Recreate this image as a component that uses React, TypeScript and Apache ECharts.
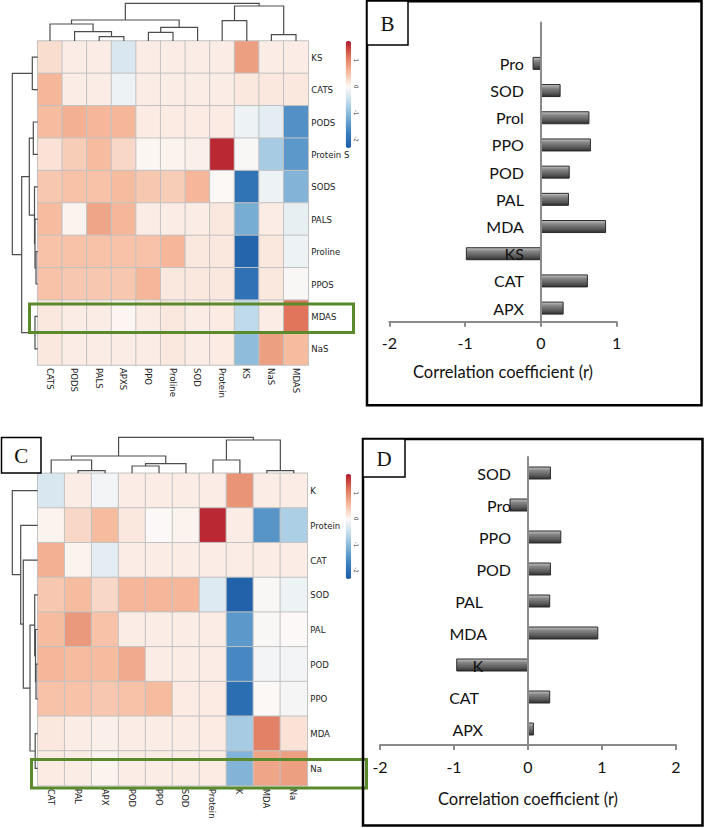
import React, { useEffect, useRef } from 'react';
import * as echarts from 'echarts';

// ---------- Heatmap A ----------
const colsA = ['CATS', 'PODS', 'PALS', 'APXS', 'PPO', 'Proline', 'SOD', 'Protein', 'KS', 'NaS', 'MDAS'];
const rowsA = ['KS', 'CATS', 'PODS', 'Protein S', 'SODS', 'PALS', 'Proline', 'PPOS', 'MDAS', 'NaS'];
const valuesA = [
  [0.25, 0.1, 0.1, -0.35, 0.1, 0.1, 0.1, 0.1, 0.8, 0.1, 0.1],
  [0.6, 0.1, 0.1, -0.15, 0.1, 0.1, 0.1, 0.1, 0.15, 0.15, 0.15],
  [0.55, 0.65, 0.6, 0.6, 0.12, 0.12, 0.12, 0.12, -0.15, -0.25, -1.55],
  [0.2, 0.4, 0.55, 0.3, 0.02, 0.05, 0.08, 1.65, -0.05, -0.8, -1.45],
  [0.45, 0.5, 0.5, 0.55, 0.45, 0.4, 0.6, 0.0, -1.95, -0.15, -1.1],
  [0.55, 0.05, 0.75, 0.6, 0.1, 0.1, 0.1, 0.15, -1.2, 0.1, -0.2],
  [0.5, 0.5, 0.5, 0.5, 0.5, 0.6, 0.15, 0.15, -2.2, 0.15, -0.15],
  [0.5, 0.45, 0.45, 0.45, 0.6, 0.15, 0.15, 0.15, -2.0, 0.15, -0.05],
  [0.15, 0.1, 0.1, 0.03, 0.1, 0.15, 0.1, 0.12, -0.6, 0.1, 1.15],
  [0.15, 0.1, 0.1, 0.1, 0.1, 0.15, 0.1, 0.12, -1.0, 0.8, 0.55],
];
// merges: [childA, childB, height]; leaves are 0..n-1, merge k gets id n+k
const colTreeA = [
  [2, 3, 4.3], [1, 11, 9.3], [0, 12, 17], [4, 5, 8.7], [14, 6, 13.7],
  [13, 15, 21], [7, 8, 20.3], [9, 10, 6.3], [17, 18, 35], [16, 19, 37.7],
];
const rowTreeA = [
  [0, 1, 5.4], [2, 3, 4.4], [6, 7, 1.7], [5, 12, 2.7], [4, 13, 3.2],
  [11, 14, 8.4], [8, 9, 2.7], [15, 16, 16], [10, 17, 25.4],
];

// ---------- Heatmap C ----------
const colsC = ['CAT', 'PAL', 'APX', 'POD', 'PPO', 'SOD', 'Protein', 'K', 'MDA', 'Na'];
const rowsC = ['K', 'Protein', 'CAT', 'SOD', 'PAL', 'POD', 'PPO', 'MDA', 'Na'];
const valuesC = [
  [-0.35, 0.1, -0.1, 0.1, 0.1, 0.1, 0.1, 0.9, 0.1, 0.1],
  [0.05, 0.3, 0.55, 0.15, -0.02, 0.05, 1.65, 0.1, -1.5, -0.75],
  [0.65, 0.05, -0.25, 0.1, 0.1, 0.1, 0.1, 0.1, 0.1, 0.1],
  [0.45, 0.55, 0.3, 0.6, 0.6, 0.6, -0.3, -2.25, -0.05, -0.15],
  [0.55, 0.85, 0.5, 0.1, 0.1, 0.1, 0.1, -1.45, -0.05, -0.02],
  [0.6, 0.55, 0.55, 0.7, 0.1, 0.1, 0.1, -1.65, -0.1, -0.1],
  [0.5, 0.5, 0.45, 0.5, 0.55, 0.12, 0.12, -2.05, 0.0, -0.08],
  [0.15, 0.1, 0.08, 0.1, 0.1, 0.1, 0.12, -0.8, 1.05, 0.2],
  [0.12, 0.1, 0.05, 0.1, 0.1, 0.1, 0.12, -1.1, 0.75, 0.8],
];
const colTreeC = [
  [1, 2, 2.6], [0, 10, 13.3], [3, 4, 7.3], [12, 5, 9.6], [11, 13, 17.3],
  [6, 7, 13.3], [8, 9, 2.6], [15, 16, 33.3], [14, 17, 36],
];
const rowTreeC = [
  [5, 6, 1.7], [4, 9, 2.2], [3, 10, 3.0], [7, 8, 2.5], [11, 12, 7.7],
  [2, 13, 14.4], [1, 14, 17], [0, 15, 25.4],
];

const colorbarTicks = [1, 0, -1, -2];
const V_MIN = -2.35;
const V_MAX = 1.75;

// ---------- Bar charts ----------
const catsB = ['APX', 'CAT', 'KS', 'MDA', 'PAL', 'POD', 'PPO', 'Prol', 'SOD', 'Pro'];
const valsB = [0.3, 0.62, -0.99, 0.86, 0.37, 0.38, 0.66, 0.64, 0.26, -0.11];
const catsD = ['APX', 'CAT', 'K', 'MDA', 'PAL', 'POD', 'PPO', 'Pro', 'SOD'];
const valsD = [0.08, 0.3, -0.97, 0.95, 0.3, 0.31, 0.45, -0.25, 0.31];
const xTicksB = [-2, 1];
const xTicksD = [-2, 2];

const heatColors = ['#1d5ca6', '#3b7fbe', '#79aed4', '#c0dbeb', '#fcf9f7', '#f6b99b', '#df7359', '#b2182b'];
const narrow = "'Liberation Sans Narrow', 'DejaVu Sans Condensed', Arial, sans-serif";
const barFont = "Lato, 'Open Sans', sans-serif";

function heatData(values: number[][]) {
  const out: number[][] = [];
  values.forEach((row, r) => row.forEach((v, c) => out.push([c, r, v])));
  return out;
}

function dendro(tree: number[][], n: number, axisIdx: number, top: boolean) {
  const pos: number[] = [];
  const ht: number[] = [];
  for (let i = 0; i < n; i++) { pos[i] = i; ht[i] = 0; }
  const data = tree.map(([a, b, h], k) => {
    const id = n + k;
    pos[id] = (pos[a] + pos[b]) / 2;
    ht[id] = h;
    return [pos[a], ht[a], pos[b], ht[b], h];
  });
  return {
    type: 'custom',
    xAxisIndex: axisIdx,
    yAxisIndex: axisIdx,
    silent: true,
    encode: top ? { x: [0, 2], y: [1, 3, 4] } : { x: [1, 3, 4], y: [0, 2] },
    renderItem: (params: any, api: any) => {
      const p1 = api.value(0), h1 = api.value(1), p2 = api.value(2), h2 = api.value(3), h = api.value(4);
      const c = (p: number, hh: number) => (top ? api.coord([p, hh]) : api.coord([hh, p]));
      return {
        type: 'polyline',
        shape: { points: [c(p1, h1), c(p1, h), c(p2, h), c(p2, h2)] },
        style: { stroke: '#4d4d4d', lineWidth: 1.2, fill: null },
      };
    },
    data,
  };
}

const hidden = { show: false };

const GRID_B = { left: 389.3, top: 22.6, width: 227.4, height: 299.1 };
const GRID_D = { left: 380, top: 457, width: 296, height: 288 };

function buildOption() {
  const heatX = (cols: string[], grid: number) => ({
    type: 'category', gridIndex: grid, data: cols, position: 'bottom',
    axisLine: hidden, axisTick: hidden, splitLine: hidden,
    axisLabel: { rotate: -90, margin: 3, fontSize: 9.5, fontFamily: narrow, color: '#222', interval: 0 },
  });
  const heatY = (rows: string[], grid: number) => ({
    type: 'category', gridIndex: grid, data: rows, inverse: true, position: 'right',
    axisLine: hidden, axisTick: hidden, splitLine: hidden,
    axisLabel: { margin: 3, fontSize: 9.5, fontFamily: narrow, color: '#222', interval: 0 },
  });
  const valAxis = (grid: number, min: number, max: number, inverse = false) => ({
    type: 'value', gridIndex: grid, min, max, inverse, show: false,
  });
  const barGrad = new echarts.graphic.LinearGradient(0, 0, 0, 1, [
    { offset: 0, color: '#c4c4c4' },
    { offset: 0.3, color: '#858585' },
    { offset: 0.75, color: '#555555' },
    { offset: 1, color: '#2e2e2e' },
  ]);
  const barX = (grid: number, ticks: number[], gap: number) => ({
    type: 'value', gridIndex: grid, min: ticks[0], max: ticks[1], interval: 1,
    name: 'Correlation coefficient (r)', nameLocation: 'middle', nameGap: gap,
    nameTextStyle: { fontSize: 16.5, fontFamily: barFont, color: '#111' },
    axisLine: { show: true, lineStyle: { color: '#8a8a8a', width: 2 } },
    axisTick: { show: true, length: 5, lineStyle: { color: '#8a8a8a', width: 2 } },
    axisLabel: { fontSize: 16, fontFamily: barFont, color: '#111', margin: 13 },
    splitLine: hidden,
  });
  // offset that puts a left category axis at x = 0 of the value axis
  const zeroOffset = (grid: { width: number }, ticks: number[]) =>
    -((0 - ticks[0]) / (ticks[1] - ticks[0])) * grid.width;
  const labelShiftD: Record<string, number> = { APX: 28, CAT: 32, K: 28, MDA: 24, PAL: 28 };

  const graphic: any[] = [];
  // colorbar tick labels
  const cbs = [
    { top: 41, h: 107 },
    { top: 474, h: 105 },
  ];
  cbs.forEach((cb) => {
    colorbarTicks.forEach((t) => {
      graphic.push({
        type: 'text', x: 356, y: cb.top + ((V_MAX - t) / (V_MAX - V_MIN)) * cb.h, rotation: -Math.PI / 2,
        style: { text: String(t), fontSize: 6, fill: '#333', align: 'center', verticalAlign: 'middle', fontFamily: narrow },
      });
    });
  });
  // highlight rectangles
  graphic.push({ type: 'rect', shape: { x: 29.5, y: 304, width: 324, height: 28.5 }, style: { fill: null, stroke: '#5b8a2c', lineWidth: 3 }, z: 100 });
  graphic.push({ type: 'rect', shape: { x: 31.5, y: 759.5, width: 335, height: 28.5 }, style: { fill: null, stroke: '#5b8a2c', lineWidth: 3 }, z: 100 });
  // panel frames
  graphic.push({ type: 'rect', shape: { x: 367, y: 1.2, width: 334.5, height: 404 }, style: { fill: null, stroke: '#000', lineWidth: 2.5 }, z: 100 });
  graphic.push({ type: 'rect', shape: { x: 363, y: 439, width: 339.5, height: 386.5 }, style: { fill: null, stroke: '#000', lineWidth: 2.5 }, z: 100 });
  // panel letters
  const letters = [
    { t: 'B', x: 367, y: 1, w: 41, h: 44 },
    { t: 'C', x: 1.5, y: 437.5, w: 39.5, h: 35.5 },
    { t: 'D', x: 363, y: 439, w: 42, h: 38 },
  ];
  letters.forEach((l) => {
    graphic.push({ type: 'rect', shape: { x: l.x, y: l.y, width: l.w, height: l.h }, style: { fill: '#fff', stroke: '#000', lineWidth: 1.5 }, z: 101 });
    graphic.push({
      type: 'text', x: l.x + l.w / 2, y: l.y + l.h / 2 + 1, z: 102,
      style: { text: l.t, fontSize: 21, fontFamily: "'Liberation Serif', 'DejaVu Serif', serif", fill: '#111', align: 'center', verticalAlign: 'middle' },
    });
  });

  const catAxisBase = {
    type: 'category', position: 'left', z: 5,
    axisLine: { show: true, onZero: false, lineStyle: { color: '#8a8a8a', width: 2 } },
    axisTick: hidden, splitLine: hidden,
    axisLabel: { fontSize: 16, fontFamily: barFont, color: '#111', margin: 17, interval: 0 },
  };

  return {
    animation: false,
    backgroundColor: '#fff',
    grid: [
      { left: 37.7, top: 41, width: 270.6, height: 324 }, // 0 heat A
      { left: 37.7, top: 473.3, width: 269.6, height: 312.4 }, // 1 heat C
      { left: 37.7, top: 1, width: 270.6, height: 40 }, // 2 col tree A
      { left: 0, top: 41, width: 37.7, height: 324 }, // 3 row tree A
      { left: 37.7, top: 433.3, width: 269.6, height: 40 }, // 4 col tree C
      { left: 0, top: 473.3, width: 37.7, height: 312.4 }, // 5 row tree C
      GRID_B, // 6 bar B
      GRID_D, // 7 bar D
    ],
    xAxis: [
      heatX(colsA, 0),
      heatX(colsC, 1),
      valAxis(2, -0.5, colsA.length - 0.5),
      valAxis(3, 0, 37.7, true),
      valAxis(4, -0.5, colsC.length - 0.5),
      valAxis(5, 0, 37.7, true),
      barX(6, xTicksB, 42),
      barX(7, xTicksD, 45),
    ],
    yAxis: [
      heatY(rowsA, 0),
      heatY(rowsC, 1),
      valAxis(2, 0, 40),
      valAxis(3, -0.5, rowsA.length - 0.5, true),
      valAxis(4, 0, 40),
      valAxis(5, -0.5, rowsC.length - 0.5, true),
      { ...catAxisBase, gridIndex: 6, data: catsB, max: catsB.length, offset: zeroOffset(GRID_B, xTicksB) },
      {
        ...catAxisBase, gridIndex: 7, offset: zeroOffset(GRID_D, xTicksD),
        data: catsD.map((c) => ({ value: c, textStyle: { padding: [0, labelShiftD[c] || 0, 0, 0] } })),
      },
    ],
    visualMap: [
      {
        type: 'continuous', seriesIndex: 0, dimension: 2, min: V_MIN, max: V_MAX, calculable: false,
        inRange: { color: heatColors }, left: 345.7, top: 41, itemWidth: 5.5, itemHeight: 107, padding: 0,
      },
      {
        type: 'continuous', seriesIndex: 1, dimension: 2, min: V_MIN, max: V_MAX, calculable: false,
        inRange: { color: heatColors }, left: 345.7, top: 474, itemWidth: 5.5, itemHeight: 105, padding: 0,
      },
    ],
    series: [
      {
        type: 'heatmap', xAxisIndex: 0, yAxisIndex: 0, data: heatData(valuesA),
        itemStyle: { borderColor: '#c2c2c2', borderWidth: 1 },
      },
      {
        type: 'heatmap', xAxisIndex: 1, yAxisIndex: 1, data: heatData(valuesC),
        itemStyle: { borderColor: '#c2c2c2', borderWidth: 1 },
      },
      dendro(colTreeA, colsA.length, 2, true),
      dendro(rowTreeA, rowsA.length, 3, false),
      dendro(colTreeC, colsC.length, 4, true),
      dendro(rowTreeC, rowsC.length, 5, false),
      {
        type: 'bar', xAxisIndex: 6, yAxisIndex: 6, data: valsB, barWidth: 13,
        itemStyle: { color: barGrad, borderColor: '#2b2b2b', borderWidth: 1 },
      },
      {
        type: 'bar', xAxisIndex: 7, yAxisIndex: 7, data: valsD, barWidth: 13,
        itemStyle: { color: barGrad, borderColor: '#2b2b2b', borderWidth: 1 },
      },
    ],
    graphic,
  };
}

export default function App() {
  const ref = useRef<HTMLDivElement>(null);
  useEffect(() => {
    const chart = echarts.init(ref.current as HTMLDivElement, null, { renderer: 'svg' });
    chart.setOption(buildOption() as any);
    return () => chart.dispose();
  }, []);
  return (
    <div
      ref={ref}
      style={{ position: 'fixed', left: 0, top: 0, width: 704, height: 828, background: '#fff' }}
    />
  );
}
